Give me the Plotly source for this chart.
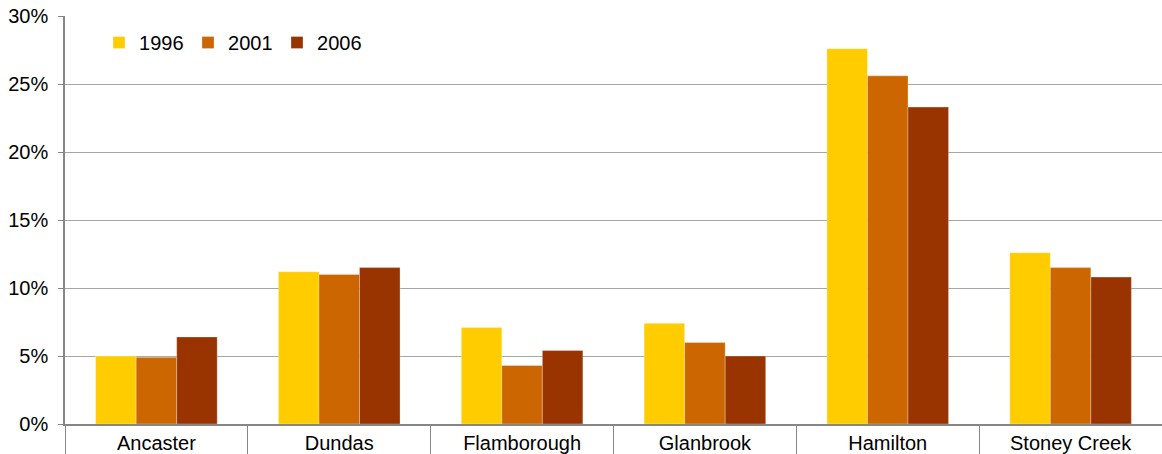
import plotly.graph_objects as go

categories = ["Ancaster", "Dundas", "Flamborough", "Glanbrook", "Hamilton", "Stoney Creek"]
series_names = ["1996", "2001", "2006"]
v1996 = [0.050, 0.112, 0.071, 0.074, 0.276, 0.126]
v2001 = [0.049, 0.110, 0.043, 0.060, 0.256, 0.115]
v2006 = [0.064, 0.115, 0.054, 0.050, 0.233, 0.108]
colors = ["#FFCC00", "#CC6600", "#993300"]
y_ticks = [0, 0.05, 0.10, 0.15, 0.20, 0.25, 0.30]

fig = go.Figure()
for name, vals, col in zip(series_names, [v1996, v2001, v2006], colors):
    fig.add_trace(go.Bar(
        x=categories, y=vals, name=name,
        marker=dict(color=col, line=dict(color="rgba(255,255,255,0.5)", width=0.6)),
    ))

fig.update_layout(
    width=1162, height=454,
    margin=dict(l=65, r=0, t=16, b=30),
    paper_bgcolor="white", plot_bgcolor="white",
    barmode="group", bargap=0.335, bargroupgap=0,
    font=dict(family="Liberation Sans, Arial, sans-serif", size=20, color="#000000"),
    showlegend=True,
    legend=dict(orientation="h", x=0.031, y=0.935, xanchor="left", yanchor="middle",
                bgcolor="rgba(0,0,0,0)", font=dict(size=20),
                entrywidth=44, entrywidthmode="pixels", itemwidth=30),
)
fig.update_yaxes(
    range=[0, 0.30], tickvals=y_ticks, tickformat=".0%",
    showgrid=True, gridcolor="#A6A6A6", gridwidth=1,
    showline=True, linecolor="#868686", linewidth=1.5,
    ticks="outside", ticklen=5, tickcolor="#868686",
    ticklabelstandoff=6, automargin=False,
    zeroline=False, fixedrange=True,
)
fig.update_xaxes(
    showline=True, linecolor="#868686", linewidth=1.5,
    ticks="outside", tickson="boundaries", ticklen=32, tickcolor="#868686",
    automargin=False,
    showgrid=False, fixedrange=True,
)

fig.write_html("out.html", config={"displayModeBar": False},
               post_script="document.body.style.margin='0';")
